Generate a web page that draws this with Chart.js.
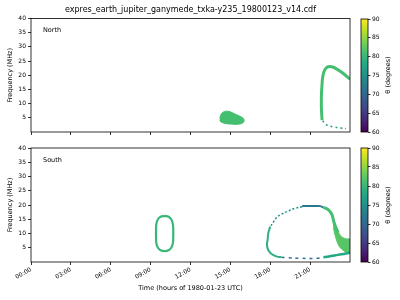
<!DOCTYPE html>
<html><head><meta charset="utf-8">
<script src="https://cdn.jsdelivr.net/npm/chart.js@4.4.0/dist/chart.umd.min.js"></script>
<style>
body{margin:0;background:#fff;width:400px;height:300px;position:relative;overflow:hidden;font-family:'DejaVu Sans',sans-serif;}
canvas{position:absolute;}
.lbl{position:absolute;font-size:6.5px;color:#000;white-space:nowrap;}
.rot{transform:translate(-50%,-50%) rotate(-90deg);}
</style></head><body>
<canvas id="north" width="355" height="140" style="left:0;top:0"></canvas>
<canvas id="south" width="355" height="160" style="left:0;top:140px"></canvas>
<canvas id="cbN" width="45" height="140" style="left:355px;top:0"></canvas>
<canvas id="cbS" width="45" height="160" style="left:355px;top:140px"></canvas>
<div class="lbl" style="left:0;width:381px;text-align:center;top:5px;font-size:8px">expres_earth_jupiter_ganymede_txka-y235_19800123_v14.cdf</div>
<div class="lbl" style="left:43px;top:26px">North</div>
<div class="lbl" style="left:43px;top:156px">South</div>
<div class="lbl rot" style="left:388px;top:75px">θ (degrees)</div>
<div class="lbl rot" style="left:388px;top:205px">θ (degrees)</div>
<script>
// axis ticks
const hours=[0,3,6,9,12,15,18,21];
const hourLabels=['00:00','03:00','06:00','09:00','12:00','15:00','18:00','21:00'];
const freqTicks=[5,10,15,20,25,30,35,40];
const thetaTicks=[60,65,70,75,80,85,90];

// North hemisphere: [hour, MHz]
const northBlob=[[14.2,5.0],[14.35,6.6],[14.65,7.3],[15.0,7.1],[15.35,6.3],[15.7,5.6],[16.0,4.6],[16.0,3.5],[15.7,2.8],[15.0,2.8],[14.45,3.2],[14.2,3.9]];
const northArc=[[21.9,4.2],[21.85,8],[21.85,13],[21.9,17],[21.95,19.5],[22.1,21.9],[22.35,23.0],[22.7,22.9],[23.1,21.9],[23.45,20.8],[24,18.6]];
const northTail=[[21.95,4.0],[22.1,2.9],[22.35,2.3],[22.75,1.8],[23.3,1.4],[23.7,1.2]];
const northTheta=[81,81,76];

// South hemisphere
const southOval=[[10.06,16.2],[10.35,15.9],[10.55,15.0],[10.66,13.6],[10.7,12.0],[10.7,8.0],[10.66,6.3],[10.55,5.0],[10.35,4.1],[10.06,3.8],[9.75,4.1],[9.55,5.0],[9.44,6.3],[9.41,8.0],[9.41,12.0],[9.44,13.6],[9.55,15.0],[9.75,15.9],[10.06,16.2]];
const southUpper=[[20.4,19.4],[19.85,18.8],[19.35,17.9],[18.85,16.8],[18.5,15.7],[18.25,14.1],[18.0,12.4]];
const southLeft=[[18.0,12.4],[17.85,10.1],[17.8,7.7],[17.75,6.0],[17.85,4.2],[18.1,2.8],[18.5,1.9],[18.85,1.65]];
const southBottom=[[18.85,1.65],[19.25,1.5],[20.25,1.3],[21.5,1.3],[22.0,1.6]];
const southBottomRight=[[22.0,1.7],[22.4,1.9],[23.1,2.5],[23.7,3.0],[24,3.3]];
const southTop=[[20.4,19.6],[20.5,19.65],[21.5,19.65],[21.75,19.6],[22.0,19.2]];
const southRight=[[22.0,19.2],[22.4,18.2],[22.65,16.5],[22.75,14.7],[22.9,12.4],[23.1,10.5]];
const southBand=[[22.65,16.5],[22.8,14.7],[23.13,10.6],[23.38,8.8],[23.76,8.1],[24,8.0],[24,3.2],[23.76,3.3],[23.38,4.5],[23.13,6.0],[22.9,9],[22.75,12]];
const southTheta=[80,75,79,71,78,72,81,82];

const viridis=['#440154','#482475','#414487','#355f8d','#2a788e','#21918c','#22a884','#44bf70','#7ad151','#bddf26','#fde725'];
function hex(h){return [1,3,5].map(i=>parseInt(h.substr(i,2),16));}
function thetaColor(t){
  let p=Math.max(0,Math.min(1,(t-60)/30))*10, i=Math.min(9,Math.floor(p)), f=p-i;
  const a=hex(viridis[i]), b=hex(viridis[i+1]);
  return 'rgb('+a.map((v,k)=>Math.round(v+(b[k]-v)*f)).join(',')+')';
}
const pts=arr=>arr.map(p=>({x:p[0],y:p[1]}));
function line(arr,theta,w,dash){return {data:pts(arr),showLine:true,pointRadius:0,borderWidth:w,borderColor:thetaColor(theta),borderDash:dash||[],tension:0.4,fill:false};}
function blob(arr,theta){const c=thetaColor(theta);return {data:pts(arr),showLine:true,pointRadius:0,borderWidth:1,borderColor:c,backgroundColor:c,tension:0.4,fill:'shape'};}

const frame={id:'frame',afterDraw(c){const a=c.chartArea,x=c.ctx;x.save();x.strokeStyle='#000';x.lineWidth=0.8;x.strokeRect(a.left,a.top,a.right-a.left,a.bottom-a.top);x.restore();}};
const font={family:'DejaVu Sans',size:6};

function panel(id,datasets,top,xh,showLabels){
  return new Chart(document.getElementById(id),{
    type:'scatter',
    data:{datasets},
    options:{responsive:false,animation:false,devicePixelRatio:1,
      layout:{padding:{top:top,right:5,left:0,bottom:0}},
      plugins:{legend:{display:false},tooltip:{enabled:false}},
      scales:{
        x:{type:'linear',min:0,max:24,
          afterBuildTicks:s=>{s.ticks=hours.map(v=>({value:v}));},
          afterFit:s=>{s.height=xh;},
          border:{display:false},
          grid:{drawOnChartArea:false,drawTicks:true,tickLength:3,color:'#000',lineWidth:0.8},
          ticks:{display:showLabels,font,color:'#000',minRotation:30,maxRotation:30,padding:1,
            callback:v=>hourLabels[hours.indexOf(v)]||''},
          title:{display:showLabels,text:'Time (hours of 1980-01-23 UTC)',font:{family:'DejaVu Sans',size:6.5},color:'#000',padding:{top:0,bottom:8}}},
        y:{min:0,max:40,
          afterBuildTicks:s=>{s.ticks=freqTicks.map(v=>({value:v}));},
          afterFit:s=>{s.width=31;},
          border:{display:false},
          grid:{drawOnChartArea:false,drawTicks:true,tickLength:3,color:'#000',lineWidth:0.8},
          ticks:{font,color:'#000',padding:2,callback:v=>String(v)},
          title:{display:true,text:'Frequency (MHz)',font:{family:'DejaVu Sans',size:6.5},color:'#000',padding:{top:6,bottom:0}}}
      }},
    plugins:[frame]
  });
}

panel('north',[
  blob(northBlob,northTheta[0]),
  line(northArc,northTheta[1],3),
  line(northTail,northTheta[2],1.5,[2,3])
],18.5,8,false);

panel('south',[
  line(southOval,southTheta[0],2.2),
  line(southUpper,southTheta[1],1.5,[2,2]),
  line(southLeft,southTheta[2],2),
  line(southBottom,southTheta[3],1.5,[3,4]),
  line(southBottomRight,southTheta[4],2.5),
  line(southTop,southTheta[5],2),
  line(southRight,southTheta[6],3),
  blob(southBand,southTheta[7])
],8,38,true);

function colorbar(id,top,bottom){
  return new Chart(document.getElementById(id),{
    type:'bar',
    data:{labels:[''],datasets:[{data:[[60,90]],barPercentage:1,categoryPercentage:1,borderWidth:0,
      backgroundColor:ctx=>{const a=ctx.chart.chartArea;if(!a)return viridis[5];
        const g=ctx.chart.ctx.createLinearGradient(0,a.bottom,0,a.top);
        viridis.forEach((c,i)=>g.addColorStop(i/10,c));return g;}}]},
    options:{responsive:false,animation:false,devicePixelRatio:1,
      layout:{padding:{top:top,left:6,right:0,bottom:bottom}},
      plugins:{legend:{display:false},tooltip:{enabled:false}},
      scales:{
        x:{display:false},
        y:{position:'right',min:60,max:90,
          afterBuildTicks:s=>{s.ticks=thetaTicks.map(v=>({value:v}));},
          afterFit:s=>{s.width=32;},
          border:{display:false},
          grid:{drawOnChartArea:false,drawTicks:true,tickLength:2.5,color:'#000',lineWidth:0.8},
          ticks:{font,color:'#000',padding:1.5,callback:v=>String(v)}}
      }},
    plugins:[frame]
  });
}
colorbar('cbN',19,8);
colorbar('cbS',8,38);
</script>
</body></html>
